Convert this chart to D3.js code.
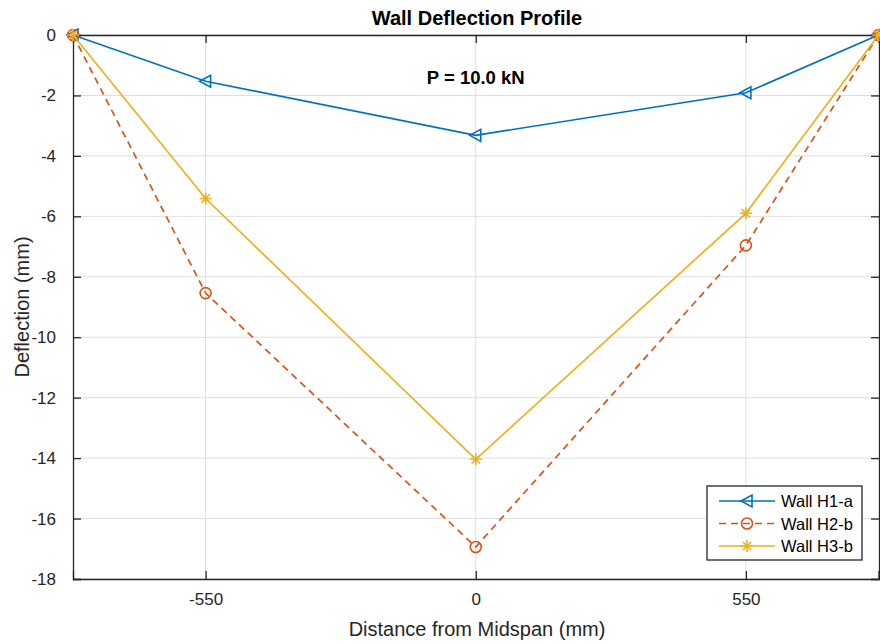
<!DOCTYPE html>
<html>
<head>
<meta charset="utf-8">
<script src="https://cdn.jsdelivr.net/npm/d3@7"></script>
<style>
  body { margin: 0; background: #fff; }
  text { font-family: "Liberation Sans", Arial, sans-serif; }
</style>
</head>
<body>
<div id="chart"></div>
<script>
// data
const positions = [-820, -550, 0, 550, 820];
const wallH1a = [0, -1.53, -3.32, -1.91, 0];
const wallH2b = [0, -8.54, -16.94, -6.96, 0];
const wallH3b = [0, -5.41, -14.04, -5.90, 0];
const xTicks = [-550, 0, 550];
const yTicks = [0, -2, -4, -6, -8, -10, -12, -14, -16, -18];
const seriesNames = ["Wall H1-a", "Wall H2-b", "Wall H3-b"];

const width = 880, height = 644;
const margin = { top: 35, right: 1, bottom: 65, left: 73 };
const innerW = width - margin.left - margin.right;
const innerH = 579 - margin.top;

const svg = d3.select("#chart").append("svg")
    .attr("width", width)
    .attr("height", height);

const g = svg.append("g")
    .attr("transform", `translate(${margin.left},${margin.top})`);

const x = d3.scaleLinear().domain([-820, 820]).range([0, innerW - 0.5]);
const y = d3.scaleLinear().domain([-18, 0]).range([innerH, 0]);

const axisColor = "#262626";
const fmt = d => String(d); // plain hyphen minus like MATLAB

// grid
g.append("g").selectAll("line.vgrid").data(xTicks).join("line")
    .attr("x1", d => x(d)).attr("x2", d => x(d))
    .attr("y1", 0).attr("y2", innerH)
    .attr("stroke", "#dedede").attr("stroke-width", 1);
g.append("g").selectAll("line.hgrid").data(yTicks).join("line")
    .attr("x1", 0).attr("x2", innerW)
    .attr("y1", d => y(d)).attr("y2", d => y(d))
    .attr("stroke", "#dedede").attr("stroke-width", 1);

// axes (MATLAB style: ticks pointing inward, box on)
const xAxisB = g.append("g").attr("transform", `translate(0,${innerH})`)
    .call(d3.axisBottom(x).tickValues(xTicks).tickSize(-8).tickPadding(14).tickFormat(fmt));
const xAxisT = g.append("g")
    .call(d3.axisTop(x).tickValues(xTicks).tickSize(-8).tickFormat(""));
const yAxisL = g.append("g")
    .call(d3.axisLeft(y).tickValues(yTicks).tickSize(-8).tickPadding(17).tickFormat(fmt));
const yAxisR = g.append("g").attr("transform", `translate(${innerW},0)`)
    .call(d3.axisRight(y).tickValues(yTicks).tickSize(-8).tickFormat(""));

[xAxisB, xAxisT, yAxisL, yAxisR].forEach(a => {
    a.select(".domain").attr("stroke", axisColor).attr("stroke-width", 1.3);
    a.selectAll(".tick line").attr("stroke", axisColor).attr("stroke-width", 1.3);
    a.selectAll(".tick text").attr("fill", axisColor).style("font-size", "17px")
        .style("font-family", "'Liberation Sans', Arial, sans-serif");
});

// series
const series = [
    { name: seriesNames[0], values: wallH1a, color: "#0072BD", dash: null, marker: "tri" },
    { name: seriesNames[1], values: wallH2b, color: "#D95319", dash: "7,5", marker: "circle" },
    { name: seriesNames[2], values: wallH3b, color: "#EDB120", dash: null, marker: "star" }
];

const line = d3.line().x(d => x(d[0])).y(d => y(d[1]));

function drawMarker(sel, type, color) {
    if (type === "tri") {
        sel.append("path").attr("d", "M-6,0 L5,-6 L5,6 Z")
            .attr("fill", "none").attr("stroke", color).attr("stroke-width", 1.6);
    } else if (type === "circle") {
        sel.append("circle").attr("r", 5.5)
            .attr("fill", "none").attr("stroke", color).attr("stroke-width", 1.6);
    } else {
        sel.append("path").attr("d", "M-6,0 L6,0 M0,-6 L0,6 M-4.2,-4.2 L4.2,4.2 M-4.2,4.2 L4.2,-4.2")
            .attr("fill", "none").attr("stroke", color).attr("stroke-width", 1.6);
    }
}

series.forEach(s => {
    const pts = positions.map((p, i) => [p, s.values[i]]);
    g.append("path").datum(pts)
        .attr("d", line)
        .attr("fill", "none")
        .attr("stroke", s.color)
        .attr("stroke-width", 1.7)
        .attr("stroke-dasharray", s.dash);
    g.append("g").selectAll("g").data(pts).join("g")
        .attr("transform", d => `translate(${x(d[0])},${y(d[1])})`)
        .each(function () { drawMarker(d3.select(this), s.marker, s.color); });
});

// title and labels
svg.append("text").attr("x", 477).attr("y", 25)
    .attr("text-anchor", "middle").attr("font-weight", "bold")
    .attr("font-size", 20).attr("fill", "#000").text("Wall Deflection Profile");

g.append("text").attr("x", x(0)).attr("y", 49)
    .attr("text-anchor", "middle").attr("font-weight", "bold")
    .attr("font-size", 18.5).attr("fill", "#000").text("P = 10.0 kN");

svg.append("text").attr("x", 477).attr("y", 636)
    .attr("text-anchor", "middle").attr("font-size", 20)
    .attr("fill", axisColor).text("Distance from Midspan (mm)");

svg.append("text")
    .attr("transform", `translate(29,${margin.top + innerH / 2}) rotate(-90)`)
    .attr("text-anchor", "middle").attr("font-size", 20)
    .attr("fill", axisColor).text("Deflection (mm)");

// legend
const legend = svg.append("g").attr("transform", "translate(707,486)");
legend.append("rect").attr("width", 155).attr("height", 74)
    .attr("fill", "#fff").attr("stroke", axisColor).attr("stroke-width", 1.3);
series.forEach((s, i) => {
    const row = legend.append("g").attr("transform", `translate(0,${15 + i * 22.5})`);
    row.append("line").attr("x1", 12).attr("x2", 68)
        .attr("stroke", s.color).attr("stroke-width", 1.7)
        .attr("stroke-dasharray", s.dash);
    drawMarker(row.append("g").attr("transform", "translate(40,0)"), s.marker, s.color);
    row.append("text").attr("x", 74).attr("y", 6)
        .attr("font-size", 16.5).attr("fill", "#000").text(s.name);
});
</script>
</body>
</html>
